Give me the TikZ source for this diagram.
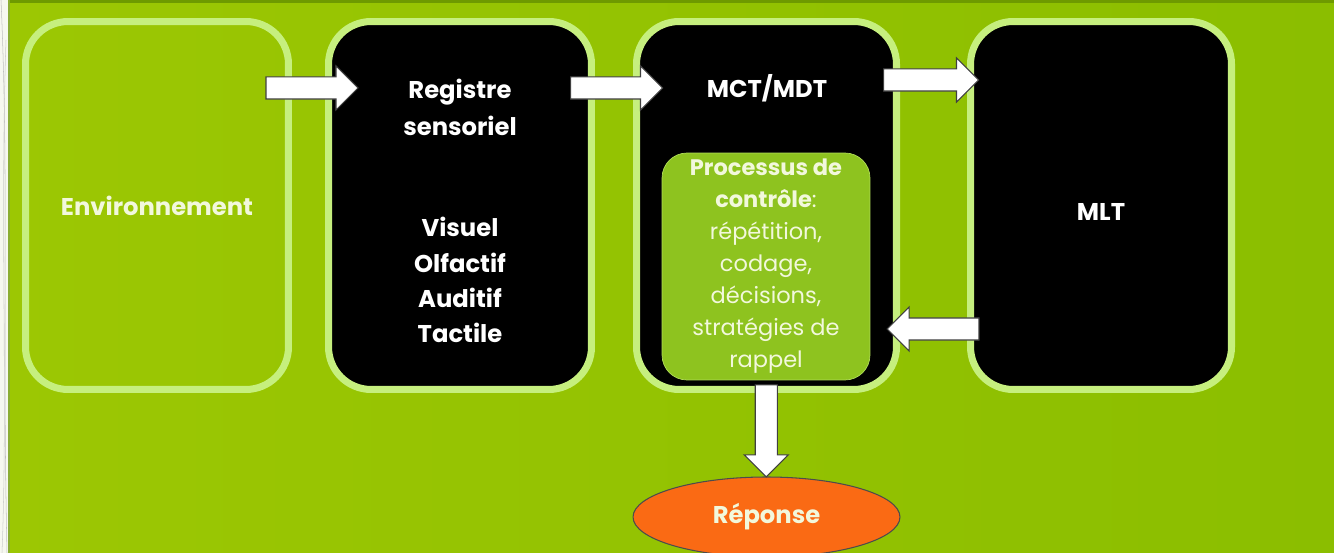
\documentclass[tikz,border=0pt]{standalone}
\usepackage{fontspec}
\setmainfont{Poppins}
\usetikzlibrary{shapes.geometric, shapes.arrows, positioning, calc}
\definecolor{bgleft}{HTML}{9CC703}
\definecolor{bgright}{HTML}{8BBE00}
\definecolor{rim}{HTML}{C6EF7E}
\definecolor{inner}{HTML}{8EC31F}
\definecolor{cream}{HTML}{F2F8DC}
\definecolor{reponse}{HTML}{FA6A14}
\definecolor{topline}{HTML}{6E9A00}
\definecolor{strip}{HTML}{F6F8F0}

\begin{document}
\begin{tikzpicture}[
        x=0.02cm, y=-0.02cm,
        font=\fontsize{13.5}{20}\selectfont,
        stage/.style={rectangle, draw=rim, line width=4pt, rounded corners=0.85cm, minimum height=7.36cm},
        dark/.style={stage, fill=black},
        lbl/.style={align=center, text=white, font=\fontsize{13.8}{20}\selectfont\bfseries},
        ctrl/.style={rectangle, draw=rim!60!inner, fill=inner, rounded corners=0.5cm, minimum width=4.16cm, minimum height=4.54cm},
        blockarrow/.style={single arrow, draw=black!75, fill=white, line width=0.6pt, inner sep=0.21cm, minimum width=0.88cm, single arrow head extend=0.22cm, minimum height=1.84cm},
        answer/.style={ellipse, draw=black!70, fill=reponse, line width=0.6pt, minimum width=5.34cm, minimum height=1.6cm}
    ]

    % --- Background ---
    \useasboundingbox (0,0) rectangle (1334,553);
    \shade[left color=bgleft, right color=bgright] (0,0) rectangle (1334,553);
    \fill[topline] (0,0) rectangle (1334,3);
    \fill[strip] (0,0) rectangle (8,553);
    \fill[topline!80] (8,0) rectangle (10,553);
    \draw[black!25, line width=0.3pt] (1,0) .. controls (9,180) and (2,320) .. (7,553);
    \draw[black!20, line width=0.3pt] (6,40) .. controls (0,220) and (8,400) .. (2,553);

    % --- Stages ---
    \node (env) [stage, minimum width=5.26cm] at (157,205.5) {};
    \node (reg) [dark, minimum width=5.26cm] at (460,205.5) {};
    \node (mct) [dark, minimum width=5.20cm] at (766.5,205.5) {};
    \node (mlt) [dark, minimum width=5.22cm] at (1101,205.5) {};
    \node (proc) [ctrl] at (766,266.5) {};
    \node (resp) [answer] at (766.5,517) {};

    % --- Labels ---
    \node (envtxt) [lbl, text=cream] at (env) {Environnement};
    \node (regtxt) [lbl, font=\fontsize{13.8}{21}\selectfont\bfseries] at (460,107) {Registre\\sensoriel};
    \node (senses) [lbl] at (460,280) {Visuel\\Olfactif\\Auditif\\Tactile};
    \node (mcttxt) [lbl] at (767,88) {MCT/MDT};
    \node (mlttxt) [lbl] at (1101,212) {MLT};
    \node (proctxt) [align=center, text=cream, font=\fontsize{12.8}{18.2}\selectfont] at (proc) {\textbf{Processus de}\\\textbf{contrôle}:\\répétition,\\codage,\\décisions,\\stratégies de\\rappel};
    \node (resptxt) [lbl, text=cream] at (resp) {Réponse};

    % --- Flow ---
    \node (a1) [blockarrow] at ($(env.east)!0.5!(reg.west)+(-2,-117.5)$) {};
    \node (a2) [blockarrow] at ($(reg.east)!0.5!(mct.west)+(-3,-117.5)$) {};
    \node (a3) [blockarrow, minimum height=1.9cm] at ($(mct.east)!0.5!(mlt.west)+(-8,-125.5)$) {};
    \node (a4) [blockarrow, shape border rotate=180] at ($(mct.east)!0.5!(mlt.west)+(5,123.5)$) {};
    \node (a5) [blockarrow, shape border rotate=270] at ($(proc.south)!0.5!(resp.north)+(0,-3)$) {};

\end{tikzpicture}
\end{document}
